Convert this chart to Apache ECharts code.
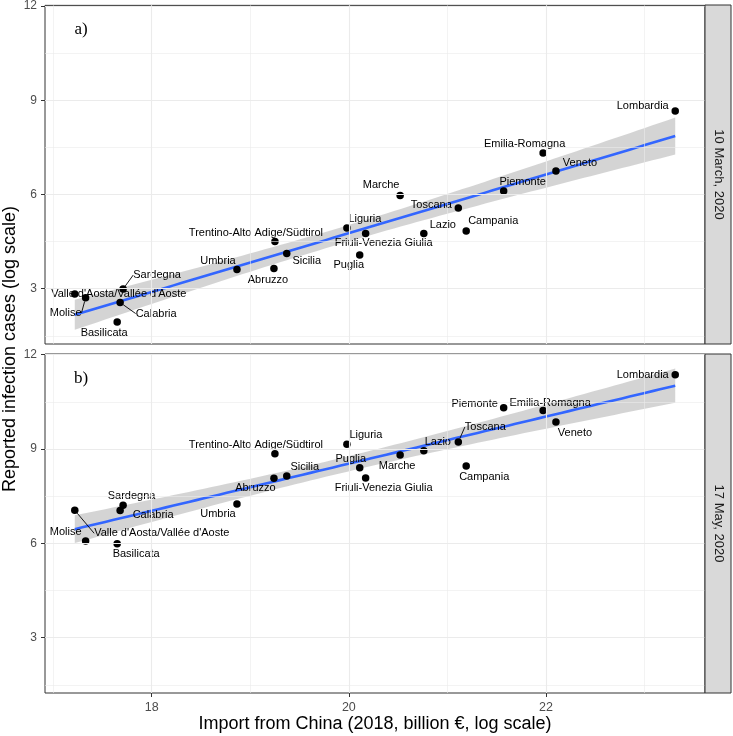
<!DOCTYPE html>
<html><head><meta charset="utf-8">
<script src="https://cdn.jsdelivr.net/npm/echarts@6/dist/echarts.min.js"></script>
<style>html,body{margin:0;padding:0;background:#fff}#c{width:733px;height:736px}</style>
</head><body><div id="c"></div>
<script>
// ---------------- DATA ----------------
const regions = ["Valle d'Aosta/Vallée d'Aoste","Molise","Basilicata","Calabria","Sardegna","Umbria","Abruzzo","Trentino-Alto Adige/Südtirol","Sicilia","Liguria","Puglia","Friuli-Venezia Giulia","Marche","Lazio","Toscana","Campania","Piemonte","Emilia-Romagna","Veneto","Lombardia"];
const importChina = [17.22,17.33,17.65,17.68,17.71,18.865,19.24,19.25,19.37,19.98,20.11,20.17,20.52,20.76,21.11,21.19,21.57,21.97,22.10,23.31];
const casesMarch = [2.83,2.71,1.94,2.56,2.99,3.61,3.64,4.50,4.12,4.93,4.07,4.76,5.97,4.76,5.57,4.84,6.11,7.32,6.75,8.66];
const casesMay = [7.05,6.07,5.99,7.04,7.21,7.25,8.07,8.85,8.14,9.15,8.40,8.08,8.81,8.94,9.22,8.46,10.31,10.22,9.86,11.36];
const panelLabels = ["10 March, 2020","17 May, 2020"];
const panelTags = ["a)","b)"];
const xTicks = [18,20,22];
const xMinor = [17,19,21,23];
const yTicks = [3,6,9,12];
const yMinor = [1.5,4.5,7.5,10.5];
const xTitle = "Import from China (2018, billion €, log scale)";
const yTitle = "Reported infection cases (log scale)";

// ---------------- LAYOUT (label offsets in px, not data) ----------------
const labelOffsetsA = [[44,0],[-20,15],[-13,11],[36,11],[34,-14],[-19,-9],[-6,11],[-19,-9],[20,7],[18,-9],[-11,10],[18,10],[-19,-10],[19,-8],[-27,-3],[27,-10],[19,-9],[-18.5,-9],[24,-8],[-32.5,-5]];
const labelOffsetsB = [[87,23],[-20,-9],[19,10],[33,4],[8.5,-9.5],[-19,10],[-18.5,10],[-19,-9],[18,-9],[19,-9],[-9,-9],[18,10],[-3,11],[14,-9],[27,-15],[18,11],[-29,-4],[7,-8],[19,11],[-32.5,0]];
const leaderA = [1,3,4];
const leaderB = [0,14];

const X_MIN = 16.918, X_MAX = 23.612, Y_MIN = 1.24, Y_MAX = 12.02;
const FONT = 'Liberation Sans, Arial, sans-serif';

// geom_smooth(method = "lm") : OLS fit with 95% confidence band
function lmFit(xs, ys){
  const n = xs.length;
  const mx = xs.reduce((a,b)=>a+b,0)/n, my = ys.reduce((a,b)=>a+b,0)/n;
  let sxx=0, sxy=0;
  for(let i=0;i<n;i++){ sxx+=(xs[i]-mx)**2; sxy+=(xs[i]-mx)*(ys[i]-my); }
  const b = sxy/sxx, a = my - b*mx;
  let sse=0; for(let i=0;i<n;i++){ sse += (ys[i]-(a+b*xs[i]))**2; }
  const s = Math.sqrt(sse/(n-2));
  const t = 2.100922; // qt(0.975, 18)
  const xmin = Math.min(...xs), xmax = Math.max(...xs);
  const out = [];
  for(let k=0;k<80;k++){
    const x = xmin + (xmax-xmin)*k/79;
    const yh = a + b*x;
    const se = s*Math.sqrt(1/n + (x-mx)**2/sxx);
    out.push([x, yh, yh - t*se, yh + t*se]);
  }
  return out;
}

const fits = [lmFit(importChina, casesMarch), lmFit(importChina, casesMay)];
const seriesY = [casesMarch, casesMay];
const offsets = [labelOffsetsA, labelOffsetsB];
const leaders = [leaderA, leaderB];

const grids = [
  {left:45, top:5, width:660, height:339},
  {left:45, top:354, width:660, height:339}
];

const xAxes = [], yAxes = [], series = [];
for (let p=0;p<2;p++){
  const bottom = p===1;
  xAxes.push({
    type:'value', gridIndex:p, min:X_MIN, max:X_MAX,
    splitLine:{show:false}, axisLine:{show:false},
    axisTick:{show:bottom, customValues:xTicks, length:4, lineStyle:{color:'#333',width:1}},
    axisLabel:{show:bottom, customValues:xTicks, color:'#4d4d4d', fontSize:12.5, fontFamily:FONT, margin:8}
  });
  yAxes.push({
    type:'value', gridIndex:p, min:Y_MIN, max:Y_MAX,
    splitLine:{show:false}, axisLine:{show:false},
    axisTick:{show:true, customValues:yTicks, length:4, lineStyle:{color:'#333',width:1}},
    axisLabel:{show:true, customValues:yTicks, color:'#4d4d4d', fontSize:12, fontFamily:FONT, margin:8}
  });
  // grid lines
  const ml = [];
  xMinor.forEach(v=>ml.push({xAxis:v, lineStyle:{width:0.6}}));
  yMinor.forEach(v=>ml.push({yAxis:v, lineStyle:{width:0.6}}));
  xTicks.forEach(v=>ml.push({xAxis:v, lineStyle:{width:1.1}}));
  yTicks.forEach(v=>ml.push({yAxis:v, lineStyle:{width:1.1}}));
  series.push({
    type:'line', xAxisIndex:p, yAxisIndex:p, data:[], z:1, silent:true,
    markLine:{silent:true, symbol:'none', animation:false, label:{show:false},
      lineStyle:{color:'#ebebeb', type:'solid'}, data:ml}
  });
  const fit = fits[p];
  series.push({
    type:'custom', xAxisIndex:p, yAxisIndex:p, z:2, silent:true,
    data:[[fit[0][0], fit[0][1]]],
    renderItem:function(params, api){
      const up = fit.map(q=>api.coord([q[0], q[3]]));
      const lo = fit.map(q=>api.coord([q[0], q[2]])).reverse();
      return {type:'polygon', shape:{points:up.concat(lo)}, style:{fill:'rgba(153,153,153,0.42)'}};
    }
  });
  series.push({
    type:'line', xAxisIndex:p, yAxisIndex:p, z:3, silent:true,
    data:fit.map(q=>[q[0], q[1]]), showSymbol:false, symbol:'none',
    lineStyle:{color:'#3366FF', width:2.6}
  });
  const ys = seriesY[p], off = offsets[p], ld = leaders[p];
  series.push({
    type:'scatter', xAxisIndex:p, yAxisIndex:p, z:4,
    symbolSize:7.5, itemStyle:{color:'#000', opacity:1},
    emphasis:{disabled:true},
    data:regions.map((r,i)=>{
      const d = {name:r, value:[importChina[i], ys[i]]};
      if (ld.includes(i)) d.labelLine = {show:true};
      return d;
    }),
    label:{show:true, position:'inside', formatter:'{b}', color:'#000', opacity:1, fontSize:11, fontFamily:FONT, textBorderWidth:0},
    labelLine:{show:false, lineStyle:{color:'#000', width:0.9, opacity:1}},
    labelLayout:function(params){ const o = off[params.dataIndex]; return {dx:o[0], dy:o[1]}; }
  });
}

const graphic = [];
for (let p=0;p<2;p++){
  const g = grids[p];
  graphic.push({type:'rect', shape:{x:705, y:g.top, width:26, height:g.height}, style:{fill:'#d9d9d9', stroke:'#333', lineWidth:1}, z:10});
  graphic.push({type:'text', x:718.5, y:g.top + g.height/2, rotation:-Math.PI/2, z:11,
    style:{text:panelLabels[p], fill:'#1a1a1a', font:'13px '+FONT, align:'center', verticalAlign:'middle', textAlign:'center', textVerticalAlign:'middle'}});
  graphic.push({type:'text', x:81, y:g.top + 25, z:11,
    style:{text:panelTags[p], fill:'#000', font:'17px Liberation Serif, Times New Roman, serif', align:'center', verticalAlign:'middle', textAlign:'center', textVerticalAlign:'middle'}});
}
graphic.push({type:'text', x:375, y:724.5, z:11,
  style:{text:xTitle, fill:'#000', font:'18px '+FONT, align:'center', verticalAlign:'middle', textAlign:'center', textVerticalAlign:'middle'}});
graphic.push({type:'text', x:10, y:349, rotation:Math.PI/2, z:11,
  style:{text:yTitle, fill:'#000', font:'18px '+FONT, align:'center', verticalAlign:'middle', textAlign:'center', textVerticalAlign:'middle'}});

const chart = echarts.init(document.getElementById('c'), null, {renderer:'canvas'});
chart.setOption({
  animation:false,
  backgroundColor:'#fff',
  grid:grids.map(g=>Object.assign({show:true, borderColor:'#333', borderWidth:1, backgroundColor:'#fff', containLabel:false}, g)),
  xAxis:xAxes, yAxis:yAxes, series:series, graphic:graphic
});
</script>
</body></html>
